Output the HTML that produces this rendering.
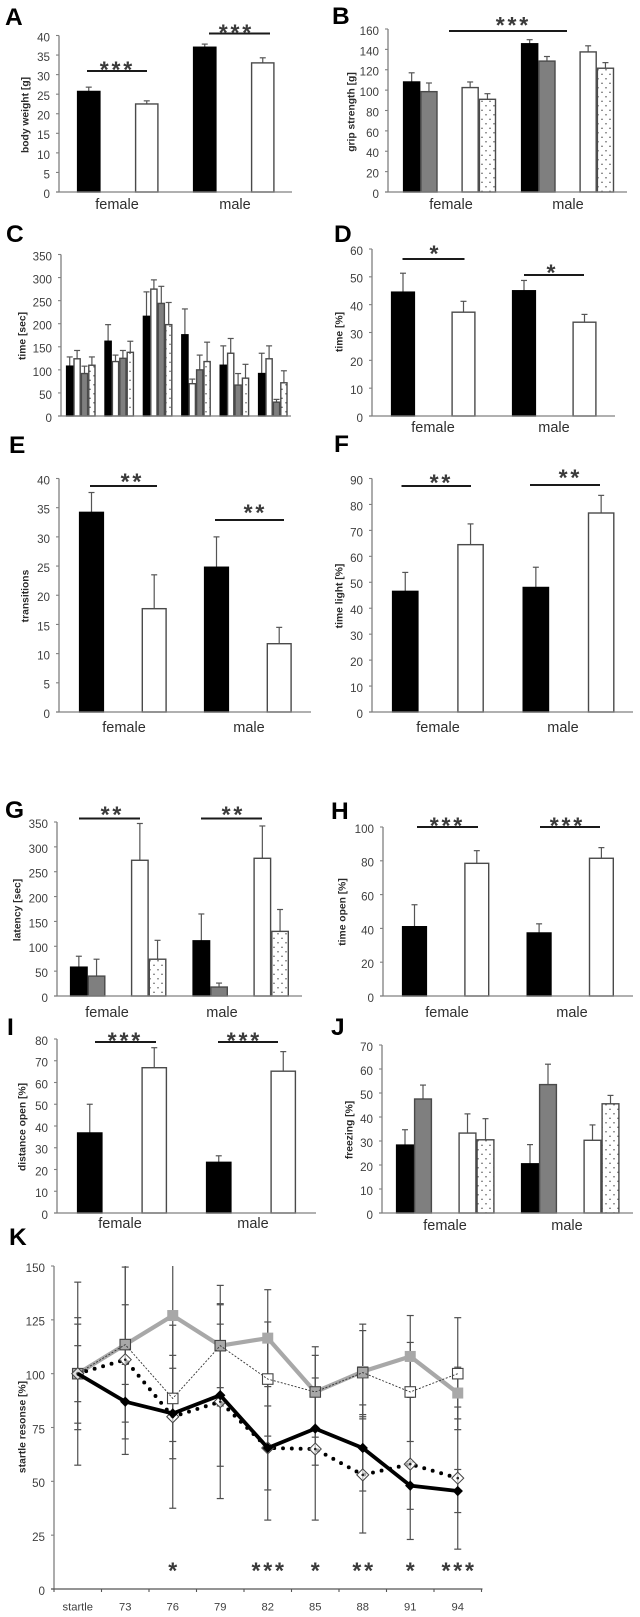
<!DOCTYPE html>
<html lang="en">
<head>
<meta charset="utf-8">
<title>Behavioural phenotyping bar charts</title>
<style>
html,body{margin:0;padding:0;background:#fff;width:640px;height:1617px;overflow:hidden}
svg{display:block;filter:blur(.35px)}
text{font-family:"Liberation Sans",sans-serif}
</style>
</head>
<body>
<svg id="figure" xmlns="http://www.w3.org/2000/svg" width="640" height="1617" viewBox="0 0 640 1617">
<defs>
<pattern id="dots" patternUnits="userSpaceOnUse" width="8" height="9">
<rect width="8" height="9" fill="#fff"/>
<circle cx="2" cy="2.2" r=".75" fill="#555"/>
<circle cx="6" cy="6.7" r=".75" fill="#555"/>
</pattern>
</defs>
</svg>
<script>
// ---------- panel data ----------
const sexCategories = ['female', 'male'];

const aTicks = [0, 5, 10, 15, 20, 25, 30, 35, 40];
const aBlack = [25.7, 37];
const aBlackTop = [26.8, 37.8];
const aWhite = [22.5, 33];
const aWhiteTop = [23.3, 34.3];

const bTicks = [0, 20, 40, 60, 80, 100, 120, 140, 160];
const bBlack = [108, 145.5];
const bBlackTop = [117, 149.5];
const bGray = [98.5, 128.5];
const bGrayTop = [107, 133];
const bWhite = [102.5, 137.5];
const bWhiteTop = [108, 143.5];
const bDotted = [91, 121.5];
const bDottedTop = [96.5, 127];

const cTicks = [0, 50, 100, 150, 200, 250, 300, 350];
const cCategories = ['', '', '', '', '', ''];
const cBlack = [108, 162, 216, 176, 110, 92];
const cBlackTop = [128, 198, 269, 232, 152, 136];
const cWhite = [124, 118, 275, 70, 136, 124];
const cWhiteTop = [142, 132, 295, 80, 168, 152];
const cGray = [92, 125, 244, 100, 67, 30];
const cGrayTop = [108, 142, 281, 132, 92, 36];
const cDotted = [110, 138, 198, 118, 82, 72];
const cDottedTop = [128, 162, 246, 160, 112, 98];

const dTicks = [0, 10, 20, 30, 40, 50, 60];
const dBlack = [44.5, 45];
const dBlackTop = [51.3, 48.7];
const dWhite = [37.3, 33.7];
const dWhiteTop = [41.2, 36.5];

const eTicks = [0, 5, 10, 15, 20, 25, 30, 35, 40];
const eBlack = [34.2, 24.8];
const eBlackTop = [37.6, 30];
const eWhite = [17.7, 11.7];
const eWhiteTop = [23.5, 14.5];

const fTicks = [0, 10, 20, 30, 40, 50, 60, 70, 80, 90];
const fBlack = [46.5, 48];
const fBlackTop = [53.8, 55.8];
const fWhite = [64.5, 76.7];
const fWhiteTop = [72.5, 83.5];

const gTicks = [0, 50, 100, 150, 200, 250, 300, 350];
const gBlack = [58, 111];
const gBlackTop = [80, 165];
const gGray = [40, 18];
const gGrayTop = [74, 26];
const gWhite = [273, 277];
const gWhiteTop = [347, 342];
const gDotted = [74, 130];
const gDottedTop = [112, 174];

const hTicks = [0, 20, 40, 60, 80, 100];
const hBlack = [41, 37.3];
const hBlackTop = [54, 42.7];
const hWhite = [78.5, 81.5];
const hWhiteTop = [86, 87.8];

const iTicks = [0, 10, 20, 30, 40, 50, 60, 70, 80];
const iBlack = [36.8, 23.3];
const iBlackTop = [50, 26.3];
const iWhite = [66.8, 65.2];
const iWhiteTop = [76, 74.2];

const jTicks = [0, 10, 20, 30, 40, 50, 60, 70];
const jBlack = [28.3, 20.5];
const jBlackTop = [34.7, 28.5];
const jGray = [47.5, 53.5];
const jGrayTop = [53.3, 62];
const jWhite = [33.3, 30.3];
const jWhiteTop = [41.3, 36.7];
const jDotted = [30.5, 45.5];
const jDottedTop = [39.3, 49];

// ---------- line chart K data ----------
const kCategories = ['startle', '73', '76', '79', '82', '85', '88', '91', '94'];
const kTicks = [0, 25, 50, 75, 100, 125, 150];
const kGray = [100, 113.5, 127, 113, 116.5, 91.5, 101, 108, 91];
const kGrayErr = [42.5, 36, 40, 28, 22.5, 21, 22, 19, 12];
const kWhite = [100, 113.5, 88.5, 113, 97.5, 91.5, 100.5, 91.5, 100];
const kWhiteErr = [26, 18.5, 20, 19.5, 26.5, 17, 19.5, 23, 26];
const kBlack = [100, 87, 81.5, 90, 65.5, 74.5, 65.5, 48, 45.5];
const kBlackErr = [13, 17.3, 21, 33, 19.5, 17, 20, 11, 10];
const kDotted = [100, 106.5, 80, 87, 65.5, 65, 53, 58, 51.5];
const kDottedErr = [23, 44, 42.5, 45, 33.5, 33, 27, 35, 33];
const kStars = ['', '', '*', '', '***', '*', '**', '*', '***'];

// ---------- drawing helpers ----------
const svg = document.getElementById('figure');
const NS = 'http://www.w3.org/2000/svg';
const AXIS = '#808080', WHISK = '#555', OUT = '#4a4a4a', TXT = '#404040';

function add(parent, tag, name, attrs, content) {
  const el = document.createElementNS(NS, tag);
  
  
  for (const k in attrs) el.setAttribute(k, attrs[k]);
  if (content !== undefined) el.textContent = content;
  parent.appendChild(el);
  return el;
}

function linearScale(domainMax, bottom, top) {
  return v => bottom - (v / domainMax) * (bottom - top);
}

function panelLetter(g, letter, x, y) {
  add(g, 'text', 'panel-letter', {x: x, y: y, 'font-size': 24.5, 'font-weight': 'bold', fill: '#000'}, letter);
}

function yAxis(g, ticks, scale, axisX, top, bottom) {
  add(g, 'line', 'y-axis', {x1: axisX, x2: axisX, y1: top, y2: bottom, stroke: AXIS, 'stroke-width': 1.3});
  ticks.forEach(t => {
    add(g, 'line', 'y-tick', {x1: axisX - 3, x2: axisX, y1: scale(t), y2: scale(t), stroke: AXIS, 'stroke-width': 1.1});
    add(g, 'text', 'y-tick-label', {x: axisX - 9, y: scale(t) + 5.9, 'text-anchor': 'end', 'font-size': 11.6, fill: TXT}, t);
  });
}

function axisTitle(g, text, x, y, bold) {
  add(g, 'text', 'y-axis-title', {
    x: 0, y: 0,
    transform: 'translate(' + (x + 3.5) + ',' + y + ') rotate(-90)',
    'text-anchor': 'middle', 'font-size': 10.3, 'font-weight': bold ? 'bold' : 'normal', fill: '#2a2a2a'
  }, text);
}

function starsText(g, stars, cx, cy) {
  add(g, 'text', 'significance-stars', {
    x: cx + 1.4, y: cy + 11.5, 'text-anchor': 'middle', 'font-size': 23, 'font-weight': 'bold', fill: '#3a3a3a',
    'letter-spacing': 2.8
  }, stars);
}

function sigBar(g, s) {
  add(g, 'line', 'significance-line', {x1: s.x1, x2: s.x2, y1: s.y, y2: s.y, stroke: '#1a1a1a', 'stroke-width': 1.9});
  starsText(g, s.stars, s.cx, s.cy);
}

const STYLES = {
  black: {fill: '#000', stroke: '#000'},
  gray: {fill: '#7f7f7f', stroke: OUT},
  white: {fill: '#fff', stroke: OUT},
  dotted: {fill: 'url(#dots)', stroke: OUT}
};
const SLOT_OF_KIND = {black: 0, gray: 1, white: 2, dotted: 3};

function barPanel(p) {
  const g = add(svg, 'g', 'panel-' + p.letter.toLowerCase(), {});
  panelLetter(g, p.letter, p.letterX, p.letterY);
  const y = linearScale(p.max, p.bottom, p.top);
  yAxis(g, p.ticks, y, p.axisX, p.top, p.bottom);
  axisTitle(g, p.title, p.titleX, p.titleY, p.bold !== false);
  p.series.forEach((s, si) => {
    const slot = p.slotBySeriesOrder ? si : SLOT_OF_KIND[s.kind];
    s.values.forEach((v, gi) => {
      const x = p.x0 + gi * p.groupStep + Math.floor(slot / 2) * p.pairStep + (slot % 2) * p.barW;
      const cx = x + p.barW / 2;
      const st = STYLES[s.kind];
      add(g, 'line', 'error-bar', {x1: cx, x2: cx, y1: y(v), y2: y(s.tops[gi]), stroke: WHISK, 'stroke-width': 1.2});
      add(g, 'line', 'error-cap', {x1: cx - 3, x2: cx + 3, y1: y(s.tops[gi]), y2: y(s.tops[gi]), stroke: WHISK, 'stroke-width': 1.2});
      add(g, 'rect', 'bar-' + s.kind, {
        x: x + .6, y: y(v), width: p.barW - 1.2, height: p.bottom - y(v),
        fill: st.fill, stroke: st.stroke, 'stroke-width': 1.4
      });
    });
  });
  add(g, 'line', 'x-axis', {x1: p.axisX - 3, x2: p.xEnd, y1: p.bottom, y2: p.bottom, stroke: AXIS, 'stroke-width': 1.3});
  p.categories.forEach((c, i) => {
    if (!c) return;
    add(g, 'text', 'x-category-label', {x: p.labelX[i], y: p.labelY, 'text-anchor': 'middle', 'font-size': 14.5, fill: '#2e2e2e'}, c);
  });
  (p.sig || []).forEach(s => sigBar(g, s));
}

// ---------- bar panels ----------
barPanel({letter: 'A', letterX: 5, letterY: 25, title: 'body weight [g]', titleX: 25, titleY: 115,
  axisX: 59, top: 35.5, bottom: 192, max: 40, ticks: aTicks, xEnd: 292,
  x0: 77, groupStep: 116, pairStep: 58, barW: 23.5,
  categories: sexCategories, labelX: [117, 235], labelY: 209,
  series: [{kind: 'black', values: aBlack, tops: aBlackTop}, {kind: 'white', values: aWhite, tops: aWhiteTop}],
  sig: [{x1: 87, x2: 147, y: 71, stars: '***', cx: 116, cy: 66}, {x1: 209, x2: 270, y: 33.5, stars: '***', cx: 235, cy: 29}]});

barPanel({letter: 'B', letterX: 332, letterY: 24, title: 'grip strength [g]', titleX: 351, titleY: 112,
  axisX: 388, top: 29, bottom: 192, max: 160, ticks: bTicks, xEnd: 627,
  x0: 403, groupStep: 118, pairStep: 58.5, barW: 17.3,
  categories: sexCategories, labelX: [451, 568], labelY: 209,
  series: [{kind: 'black', values: bBlack, tops: bBlackTop}, {kind: 'gray', values: bGray, tops: bGrayTop},
           {kind: 'white', values: bWhite, tops: bWhiteTop}, {kind: 'dotted', values: bDotted, tops: bDottedTop}],
  sig: [{x1: 449, x2: 567, y: 31, stars: '***', cx: 512, cy: 21.5}]});

barPanel({letter: 'C', letterX: 6, letterY: 242, title: 'time [sec]', titleX: 22, titleY: 336,
  axisX: 61, top: 254.5, bottom: 416, max: 350, ticks: cTicks, xEnd: 291,
  x0: 66, groupStep: 38.4, pairStep: 14.8, barW: 7.4, slotBySeriesOrder: true,
  categories: cCategories, labelX: [], labelY: 0,
  series: [{kind: 'black', values: cBlack, tops: cBlackTop}, {kind: 'white', values: cWhite, tops: cWhiteTop},
           {kind: 'gray', values: cGray, tops: cGrayTop}, {kind: 'dotted', values: cDotted, tops: cDottedTop}]});

barPanel({letter: 'D', letterX: 334, letterY: 242, title: 'time [%]', titleX: 339, titleY: 332,
  axisX: 372, top: 249, bottom: 416, max: 60, ticks: dTicks, xEnd: 615,
  x0: 391, groupStep: 121, pairStep: 60.5, barW: 24,
  categories: sexCategories, labelX: [433, 554], labelY: 432,
  series: [{kind: 'black', values: dBlack, tops: dBlackTop}, {kind: 'white', values: dWhite, tops: dWhiteTop}],
  sig: [{x1: 402.5, x2: 464.5, y: 259, stars: '*', cx: 434, cy: 250}, {x1: 524, x2: 584, y: 275, stars: '*', cx: 551, cy: 269}]});

barPanel({letter: 'E', letterX: 9, letterY: 453, title: 'transitions', titleX: 25, titleY: 596,
  axisX: 59, top: 478.5, bottom: 712, max: 40, ticks: eTicks, xEnd: 311,
  x0: 79, groupStep: 125, pairStep: 62.7, barW: 25,
  categories: sexCategories, labelX: [124, 249], labelY: 732,
  series: [{kind: 'black', values: eBlack, tops: eBlackTop}, {kind: 'white', values: eWhite, tops: eWhiteTop}],
  sig: [{x1: 90, x2: 157, y: 486, stars: '**', cx: 131, cy: 478}, {x1: 215, x2: 284, y: 520, stars: '**', cx: 254, cy: 509}]});

barPanel({letter: 'F', letterX: 334, letterY: 452, title: 'time light [%]', titleX: 339, titleY: 596,
  axisX: 372, top: 478.5, bottom: 712, max: 90, ticks: fTicks, xEnd: 633,
  x0: 392, groupStep: 130.6, pairStep: 65.3, barW: 26.5,
  categories: sexCategories, labelX: [438, 563], labelY: 732,
  series: [{kind: 'black', values: fBlack, tops: fBlackTop}, {kind: 'white', values: fWhite, tops: fWhiteTop}],
  sig: [{x1: 401.5, x2: 471, y: 486, stars: '**', cx: 440, cy: 479}, {x1: 530, x2: 600, y: 485, stars: '**', cx: 569, cy: 474}]});

barPanel({letter: 'G', letterX: 5, letterY: 818, title: 'latency [sec]', titleX: 17, titleY: 910,
  axisX: 57, top: 822, bottom: 996, max: 350, ticks: gTicks, xEnd: 302,
  x0: 70, groupStep: 122.5, pairStep: 61, barW: 17.7,
  categories: sexCategories, labelX: [107, 222], labelY: 1017,
  series: [{kind: 'black', values: gBlack, tops: gBlackTop}, {kind: 'gray', values: gGray, tops: gGrayTop},
           {kind: 'white', values: gWhite, tops: gWhiteTop}, {kind: 'dotted', values: gDotted, tops: gDottedTop}],
  sig: [{x1: 79, x2: 140, y: 818.5, stars: '**', cx: 111, cy: 811}, {x1: 201, x2: 262, y: 818.5, stars: '**', cx: 232, cy: 811}]});

barPanel({letter: 'H', letterX: 331, letterY: 819, title: 'time open [%]', titleX: 342, titleY: 912,
  axisX: 383, top: 827, bottom: 996, max: 100, ticks: hTicks, xEnd: 633,
  x0: 402, groupStep: 124.6, pairStep: 62.3, barW: 25,
  categories: sexCategories, labelX: [447, 572], labelY: 1017,
  series: [{kind: 'black', values: hBlack, tops: hBlackTop}, {kind: 'white', values: hWhite, tops: hWhiteTop}],
  sig: [{x1: 417, x2: 478, y: 827, stars: '***', cx: 446, cy: 822}, {x1: 540, x2: 600, y: 827, stars: '***', cx: 566, cy: 822}]});

barPanel({letter: 'I', letterX: 7, letterY: 1035, title: 'distance open [%]', titleX: 22, titleY: 1127,
  axisX: 57, top: 1039, bottom: 1213, max: 80, ticks: iTicks, xEnd: 316,
  x0: 77, groupStep: 129, pairStep: 64.5, barW: 25.5,
  categories: sexCategories, labelX: [120, 253], labelY: 1228,
  series: [{kind: 'black', values: iBlack, tops: iBlackTop}, {kind: 'white', values: iWhite, tops: iWhiteTop}],
  sig: [{x1: 95, x2: 156, y: 1042, stars: '***', cx: 124, cy: 1037}, {x1: 218, x2: 278, y: 1042, stars: '***', cx: 243, cy: 1037}]});

barPanel({letter: 'J', letterX: 331, letterY: 1035, title: 'freezing [%]', titleX: 349, titleY: 1130,
  axisX: 382, top: 1045, bottom: 1213, max: 70, ticks: jTicks, xEnd: 633,
  x0: 396, groupStep: 125, pairStep: 62.5, barW: 18,
  categories: sexCategories, labelX: [445, 567], labelY: 1230,
  series: [{kind: 'black', values: jBlack, tops: jBlackTop}, {kind: 'gray', values: jGray, tops: jGrayTop},
           {kind: 'white', values: jWhite, tops: jWhiteTop}, {kind: 'dotted', values: jDotted, tops: jDottedTop}]});

// ---------- line panel K ----------
(function () {
  const g = add(svg, 'g', 'panel-k', {});
  panelLetter(g, 'K', 9, 1245);
  const maxV = 150, top = 1266, bottom = 1589, axisX = 54, band = 47.5;
  const y = linearScale(maxV, bottom, top);
  const x = i => axisX + (i + .5) * band;
  yAxis(g, kTicks, y, axisX, top, bottom);
  axisTitle(g, 'startle resonse [%]', 22, 1427, true);

  add(g, 'line', 'x-axis', {x1: axisX - 3, x2: axisX + kCategories.length * band + 1, y1: bottom, y2: bottom, stroke: '#555', 'stroke-width': 1.3});
  for (let i = 0; i <= kCategories.length; i++) {
    add(g, 'line', 'x-tick', {x1: axisX + i * band, x2: axisX + i * band, y1: bottom, y2: bottom + 3, stroke: '#555', 'stroke-width': 1.1});
  }
  kCategories.forEach((c, i) => {
    add(g, 'text', 'x-category-label', {x: x(i), y: bottom + 21.5, 'text-anchor': 'middle', 'font-size': 11.2, fill: TXT}, c);
  });

  function whiskers(vals, errs, name) {
    vals.forEach((v, i) => {
      const hi = Math.min(v + errs[i], maxV), lo = Math.max(v - errs[i], 0);
      add(g, 'line', name + '-error-bar', {x1: x(i), x2: x(i), y1: y(hi), y2: y(lo), stroke: '#4f4f4f', 'stroke-width': 1.2});
      if (v + errs[i] < maxV) {
        add(g, 'line', name + '-error-cap', {x1: x(i) - 3.5, x2: x(i) + 3.5, y1: y(hi), y2: y(hi), stroke: '#4f4f4f', 'stroke-width': 1.2});
      }
      add(g, 'line', name + '-error-cap', {x1: x(i) - 3.5, x2: x(i) + 3.5, y1: y(lo), y2: y(lo), stroke: '#4f4f4f', 'stroke-width': 1.2});
    });
  }
  whiskers(kGray, kGrayErr, 'gray-series');
  whiskers(kWhite, kWhiteErr, 'white-series');
  whiskers(kBlack, kBlackErr, 'black-series');
  whiskers(kDotted, kDottedErr, 'dotted-series');

  const pts = vals => vals.map((v, i) => x(i) + ',' + y(v)).join(' ');
  const sq = 10.5;

  // white squares background
  kWhite.forEach((v, i) => {
    add(g, 'rect', 'white-series-marker-fill', {x: x(i) - sq / 2, y: y(v) - sq / 2, width: sq, height: sq, fill: '#fff'});
  });
  // gray series
  add(g, 'polyline', 'gray-series-line', {points: pts(kGray), fill: 'none', stroke: '#a8a8a8', 'stroke-width': 4.2, 'stroke-linejoin': 'round'});
  kGray.forEach((v, i) => {
    add(g, 'rect', 'gray-series-marker', {x: x(i) - 5.5, y: y(v) - 5.5, width: 11, height: 11, fill: '#a8a8a8'});
  });
  // white series (dashed thin)
  add(g, 'polyline', 'white-series-line', {points: pts(kWhite), fill: 'none', stroke: '#333', 'stroke-width': .9, 'stroke-dasharray': '2 1.6'});
  kWhite.forEach((v, i) => {
    add(g, 'rect', 'white-series-marker', {x: x(i) - sq / 2, y: y(v) - sq / 2, width: sq, height: sq, fill: 'none', stroke: '#444', 'stroke-width': 1.1});
  });
  // dotted series
  add(g, 'polyline', 'dotted-series-line', {points: pts(kDotted), fill: 'none', stroke: '#000', 'stroke-width': 3.9, 'stroke-linecap': 'round', 'stroke-dasharray': '0 8.8'});
  kDotted.forEach((v, i) => {
    const d = 6;
    add(g, 'polygon', 'dotted-series-marker', {
      points: [x(i) + ',' + (y(v) - d), (x(i) + d) + ',' + y(v), x(i) + ',' + (y(v) + d), (x(i) - d) + ',' + y(v)].join(' '),
      fill: '#fff', 'fill-opacity': .65, stroke: '#444', 'stroke-width': 1
    });
    add(g, 'circle', 'dotted-series-marker-dot', {cx: x(i), cy: y(v), r: 1.3, fill: '#222'});
  });
  // black series
  add(g, 'polyline', 'black-series-line', {points: pts(kBlack), fill: 'none', stroke: '#000', 'stroke-width': 3.8, 'stroke-linejoin': 'round'});
  kBlack.forEach((v, i) => {
    const d = 5.2;
    if (i === 0) return;
    add(g, 'polygon', 'black-series-marker', {
      points: [x(i) + ',' + (y(v) - d), (x(i) + d) + ',' + y(v), x(i) + ',' + (y(v) + d), (x(i) - d) + ',' + y(v)].join(' '),
      fill: '#000'
    });
  });
  kStars.forEach((s, i) => {
    if (s) starsText(g, s, x(i), 1567);
  });
})();
</script>
</body>
</html>
